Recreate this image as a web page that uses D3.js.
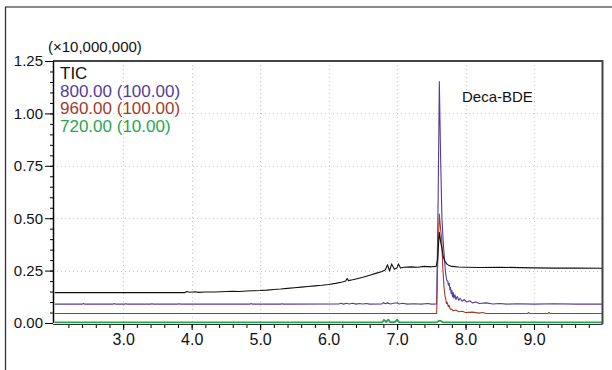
<!DOCTYPE html>
<html>
<head>
<meta charset="utf-8">
<script src="https://cdn.jsdelivr.net/npm/d3@7"></script>
<style>
  body { margin: 0; background: #fff; }
  text { font-family: "Liberation Sans", Arial, sans-serif; }
</style>
</head>
<body>
<div id="chrom"></div>
<script>
// retention time (min), intensity (x10,000,000)
var ticTrace = [[2.0,0.145],[3.9,0.145],[3.93,0.150],[3.97,0.147],[4.05,0.149],[4.1,0.146],[4.2,0.148],[4.35,0.148],[4.5,0.150],[4.6,0.151],[4.7,0.150],[4.8,0.153],[4.9,0.154],[5.0,0.155],[5.1,0.157],[5.2,0.160],[5.3,0.162],[5.4,0.165],[5.5,0.168],[5.6,0.171],[5.7,0.174],[5.8,0.177],[5.9,0.180],[6.0,0.184],[6.1,0.189],[6.2,0.196],[6.25,0.200],[6.27,0.212],[6.29,0.202],[6.35,0.206],[6.4,0.210],[6.5,0.218],[6.6,0.228],[6.7,0.238],[6.78,0.246],[6.83,0.254],[6.86,0.278],[6.89,0.248],[6.92,0.282],[6.96,0.256],[7.0,0.264],[7.02,0.282],[7.05,0.262],[7.1,0.266],[7.2,0.268],[7.3,0.266],[7.4,0.270],[7.5,0.268],[7.57,0.270],[7.59,0.30],[7.617,0.432],[7.64,0.38],[7.652,0.362],[7.675,0.315],[7.70,0.295],[7.725,0.282],[7.75,0.276],[7.8,0.27],[7.9,0.267],[8.0,0.266],[8.2,0.265],[8.5,0.266],[8.8,0.264],[9.0,0.263],[9.3,0.262],[9.6,0.262],[10.0,0.261]];

var ion800 = [[2.0,0.090],[2.4,0.090],[2.42,0.093],[2.44,0.090],[2.85,0.090],[2.87,0.093],[2.89,0.090],[3.02,0.090],[3.04,0.092],[3.06,0.090],[3.4,0.090],[3.42,0.092],[3.44,0.090],[3.8,0.090],[3.82,0.092],[3.84,0.090],[4.85,0.090],[4.87,0.093],[4.89,0.090],[5.3,0.090],[5.32,0.092],[5.34,0.090],[6.15,0.091],[6.18,0.094],[6.22,0.090],[6.26,0.094],[6.3,0.091],[6.35,0.094],[6.4,0.090],[6.45,0.093],[6.5,0.091],[6.55,0.093],[6.6,0.090],[6.78,0.091],[6.8,0.097],[6.83,0.092],[6.86,0.096],[6.9,0.091],[6.95,0.094],[7.0,0.097],[7.03,0.091],[7.08,0.094],[7.15,0.090],[7.25,0.092],[7.35,0.090],[7.45,0.093],[7.5,0.090],[7.578,0.091],[7.60,0.60],[7.617,1.152],[7.635,0.80],[7.655,0.50],[7.675,0.38],[7.70,0.27],[7.71,0.235],[7.725,0.205],[7.74,0.20],[7.75,0.18],[7.76,0.19],[7.773,0.158],[7.78,0.17],[7.79,0.14],[7.80,0.155],[7.81,0.125],[7.82,0.145],[7.83,0.118],[7.845,0.135],[7.86,0.112],[7.88,0.127],[7.90,0.108],[7.92,0.118],[7.95,0.104],[7.98,0.112],[8.02,0.100],[8.06,0.106],[8.1,0.096],[8.15,0.100],[8.2,0.093],[8.3,0.096],[8.4,0.091],[8.5,0.093],[8.6,0.090],[8.75,0.092],[9.0,0.090],[9.3,0.092],[9.6,0.090],[10.0,0.090]];

var ion960 = [[2.0,0.045],[7.578,0.045],[7.59,0.25],[7.617,0.52],[7.635,0.45],[7.652,0.396],[7.667,0.269],[7.685,0.173],[7.70,0.13],[7.714,0.108],[7.72,0.092],[7.73,0.10],[7.748,0.078],[7.76,0.085],[7.775,0.066],[7.797,0.066],[7.82,0.058],[7.86,0.062],[7.9,0.054],[7.95,0.056],[8.0,0.050],[8.1,0.052],[8.2,0.047],[8.25,0.050],[8.3,0.045],[8.9,0.045],[8.92,0.050],[8.94,0.045],[9.2,0.045],[9.22,0.050],[9.24,0.045],[10.0,0.045]];

var ion720 = [[2.0,0.003],[6.78,0.003],[6.81,0.015],[6.84,0.004],[6.87,0.016],[6.9,0.004],[6.97,0.004],[7.0,0.016],[7.03,0.003],[7.58,0.003],[7.61,0.010],[7.64,0.010],[7.67,0.003],[10.0,0.003]];

var legendLabels = ["TIC", "800.00 (100.00)", "960.00 (100.00)", "720.00 (10.00)"];
var traceColors = ["#111111", "#553b9e", "#a23a2f", "#26a650"];
var xTickValues = [3, 4, 5, 6, 7, 8, 9];
var yTickValues = [0, 0.25, 0.5, 0.75, 1.0, 1.25];
var peakLabel = "Deca-BDE";
var yUnitLabel = "(\u00d710,000,000)";

var width = 612, height = 370;
var plot = {left: 53, right: 602.5, top: 61, bottom: 323};

var svg = d3.select("#chrom").append("svg")
    .attr("width", width)
    .attr("height", height);

// outer frame (only top and left visible)
svg.append("line").attr("x1", 5).attr("x2", width).attr("y1", 7).attr("y2", 7)
    .attr("stroke", "#8a8a8a").attr("stroke-width", 2);
svg.append("line").attr("x1", 5.5).attr("x2", 5.5).attr("y1", 7).attr("y2", height)
    .attr("stroke", "#333").attr("stroke-width", 1.3);

var x = d3.scaleLinear().domain([1.975, 10.0]).range([plot.left, plot.right]);
var y = d3.scaleLinear().domain([0, 1.25]).range([plot.bottom, plot.top]);

// dotted grid
svg.append("g").selectAll("line")
    .data(yTickValues.filter(function(d) { return d > 0 && d < 1.25; }))
    .enter().append("line")
    .attr("x1", plot.left).attr("x2", plot.right)
    .attr("y1", function(d) { return Math.round(y(d)) + 0.5; })
    .attr("y2", function(d) { return Math.round(y(d)) + 0.5; })
    .attr("stroke", "#c8c8c8").attr("stroke-dasharray", "1,3");
svg.append("g").selectAll("line")
    .data(xTickValues)
    .enter().append("line")
    .attr("x1", function(d) { return Math.round(x(d)) + 0.5; })
    .attr("x2", function(d) { return Math.round(x(d)) + 0.5; })
    .attr("y1", plot.top).attr("y2", plot.bottom)
    .attr("stroke", "#c8c8c8").attr("stroke-dasharray", "1,3");

// traces
var line = d3.line()
    .x(function(d) { return x(d[0]); })
    .y(function(d) { return y(d[1]); });

var traces = [ion800, ion960, ticTrace, ion720];
var traceCol = [traceColors[1], traceColors[2], traceColors[0], traceColors[3]];
svg.append("g").selectAll("path")
    .data(traces)
    .enter().append("path")
    .attr("d", line)
    .attr("fill", "none")
    .attr("stroke", function(d, i) { return traceCol[i]; })
    .attr("stroke-width", function(d, i) { return i == 3 ? 1.8 : 1.1; })
    .attr("stroke-linejoin", "round");

// plot frame
svg.append("line").attr("x1", plot.left).attr("x2", plot.right).attr("y1", plot.top).attr("y2", plot.top)
    .attr("stroke", "#444").attr("stroke-width", 2);
svg.append("line").attr("x1", plot.right).attr("x2", plot.right).attr("y1", plot.top - 1).attr("y2", plot.bottom + 1)
    .attr("stroke", "#444").attr("stroke-width", 2);

// y axis
var yMinor = d3.range(0, 1.2501, 0.05);
svg.append("g")
    .attr("transform", "translate(" + plot.left + ",0)")
    .call(d3.axisLeft(y).tickValues(yMinor).tickSize(3).tickFormat(""))
    .call(function(g) { g.select(".domain").remove(); });
svg.append("g")
    .attr("transform", "translate(" + plot.left + ",0)")
    .call(d3.axisLeft(y).tickValues(yTickValues).tickSize(8).tickPadding(2)
        .tickFormat(d3.format(".2f")))
    .call(function(g) {
        g.select(".domain").attr("d", "M0.5," + plot.top + "V" + plot.bottom).attr("stroke-width", 1.5);
        g.selectAll("text").attr("font-size", "15px").attr("fill", "#111")
            .attr("font-family", '"Liberation Sans", Arial, sans-serif');
    });

// x axis
var xMinor = d3.range(2.2, 9.99, 0.2);
svg.append("g")
    .attr("transform", "translate(0," + (plot.bottom + 1) + ")")
    .call(d3.axisBottom(x).tickValues(xMinor).tickSize(4).tickFormat(""))
    .call(function(g) { g.select(".domain").remove(); });
svg.append("g")
    .attr("transform", "translate(0," + (plot.bottom + 1) + ")")
    .call(d3.axisBottom(x).tickValues(xTickValues).tickSize(6).tickPadding(4)
        .tickFormat(d3.format(".1f")))
    .call(function(g) {
        g.select(".domain").attr("d", "M" + plot.left + ",0.5H" + plot.right).attr("stroke", "#333");
        g.selectAll("text").attr("font-size", "16px").attr("fill", "#111")
            .attr("font-family", '"Liberation Sans", Arial, sans-serif');
    });

// unit label
svg.append("text")
    .attr("x", 48).attr("y", 52)
    .attr("font-size", "15px").attr("fill", "#111")
    .text(yUnitLabel);

// legend
svg.append("g").selectAll("text")
    .data(legendLabels)
    .enter().append("text")
    .attr("x", 60)
    .attr("y", function(d, i) { return 79 + i * 17.6; })
    .attr("font-size", "17px")
    .attr("fill", function(d, i) { return traceColors[i]; })
    .text(function(d) { return d; });

// peak annotation
svg.append("text")
    .attr("x", 462).attr("y", 101.5)
    .attr("font-size", "15px").attr("fill", "#111")
    .text(peakLabel);
</script>
</body>
</html>
